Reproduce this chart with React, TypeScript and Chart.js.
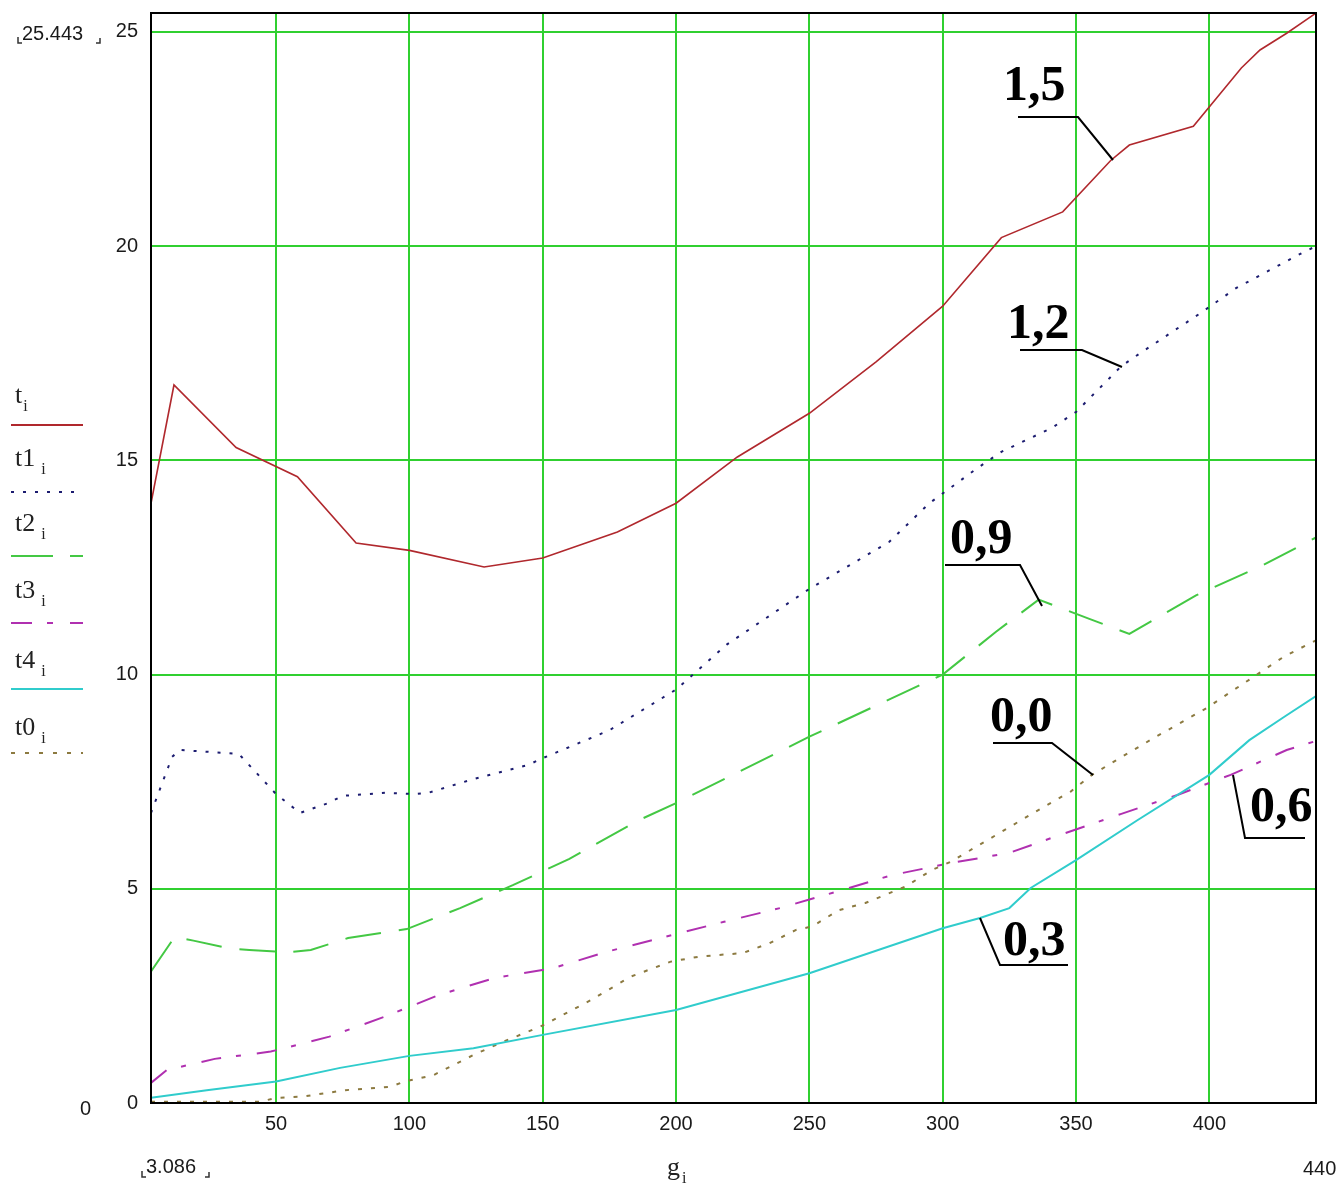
import React, { useEffect, useRef } from "react";
import { Chart, registerables } from "chart.js";
Chart.register(...registerables);

// ---- data ----
const xMin = 3.086;
const xMax = 440;
const yMin = 0;
const yMax = 25.443;
const xTicks = [50, 100, 150, 200, 250, 300, 350, 400];
const yTicks = [0, 5, 10, 15, 20, 25];

// t_i  (label 1,5)
const tG = [3.086, 11.7, 35, 58, 80, 100, 128, 150, 178, 200, 223, 250, 275, 300, 322, 345, 363, 370, 394, 412, 419, 429, 440];
const tV = [14.0, 16.76, 15.3, 14.62, 13.07, 12.9, 12.51, 12.72, 13.33, 14.0, 15.08, 16.1, 17.3, 18.6, 20.2, 20.8, 22.0, 22.36, 22.8, 24.16, 24.58, 24.97, 25.44];

// t1_i (label 1,2)
const t1G = [3.086, 11, 14, 36, 50, 59, 69.5, 75, 91, 102, 107, 124, 144.5, 150, 175, 200, 219, 250, 280, 295, 313, 322, 341, 350, 367, 374, 397, 410, 435, 440];
const t1V = [6.77, 8.08, 8.24, 8.15, 7.21, 6.77, 7.0, 7.17, 7.24, 7.21, 7.24, 7.56, 7.89, 8.05, 8.7, 9.65, 10.7, 12.0, 13.1, 14.0, 14.82, 15.2, 15.76, 16.13, 17.2, 17.5, 18.45, 19.02, 19.85, 20.0];

// t2_i (label 0,9)
const t2G = [3.086, 12, 19, 33, 40, 55, 63, 77, 99, 119, 139, 160, 186, 200, 250, 300, 320, 336, 355, 370, 395, 420, 440];
const t2V = [3.07, 3.88, 3.79, 3.6, 3.57, 3.52, 3.57, 3.85, 4.06, 4.55, 5.09, 5.7, 6.6, 7.0, 8.55, 10.0, 11.0, 11.75, 11.3, 10.95, 11.85, 12.55, 13.2];

// t3_i (label 0,6)
const t3G = [3.086, 9, 27, 48, 70, 91, 111, 132, 154, 174, 196, 218, 239, 260, 281, 303, 325, 346, 367, 388, 408, 429, 440];
const t3V = [0.47, 0.77, 1.03, 1.2, 1.55, 2.02, 2.52, 2.92, 3.15, 3.53, 3.88, 4.23, 4.55, 4.93, 5.32, 5.6, 5.84, 6.3, 6.75, 7.19, 7.66, 8.24, 8.45];

// t4_i (label 0,3)
const t4G = [3.086, 24, 50, 74, 100, 124, 150, 200, 250, 300, 314, 325, 333, 350, 373, 400, 415, 428, 440];
const t4V = [0.12, 0.3, 0.5, 0.82, 1.1, 1.28, 1.59, 2.17, 3.03, 4.08, 4.32, 4.55, 5.02, 5.67, 6.6, 7.66, 8.47, 9.01, 9.5];

// t0_i (label 0,0)
const t0G = [3.086, 44, 50, 60, 76, 93, 98, 109, 124, 134, 149, 154, 168, 183, 198, 209, 225, 235, 245, 251, 261, 271, 286, 296, 303, 334, 348, 356, 365, 380, 399, 413, 428, 440];
const t0V = [0.03, 0.03, 0.12, 0.15, 0.3, 0.38, 0.5, 0.65, 1.12, 1.4, 1.78, 1.94, 2.4, 2.95, 3.3, 3.42, 3.5, 3.73, 4.04, 4.12, 4.5, 4.67, 5.05, 5.44, 5.63, 6.77, 7.27, 7.66, 8.0, 8.55, 9.22, 9.8, 10.42, 10.8];

const C_T = "#b0282d";
const C_T1 = "#1c1c70";
const C_T2 = "#44c844";
const C_T3 = "#b030b0";
const C_T4 = "#30cccc";
const C_T0 = "#8c7a40";

function pts(xs: number[], ys: number[]) {
  return xs.map((x, i) => ({ x, y: ys[i] }));
}

const framePlugin = {
  id: "frame",
  afterDraw(chart: any) {
    const { ctx, chartArea } = chart;
    ctx.save();
    ctx.strokeStyle = "#000";
    ctx.lineWidth = 2;
    ctx.strokeRect(chartArea.left, chartArea.top, chartArea.right - chartArea.left, chartArea.bottom - chartArea.top);
    ctx.restore();
  },
};

const tickFont = { family: "'Liberation Sans', Arial, sans-serif", size: 20 };

export default function App() {
  const ref = useRef<HTMLCanvasElement | null>(null);

  useEffect(() => {
    if (!ref.current) return;
    const chart = new Chart(ref.current, {
      type: "line",
      data: {
        datasets: [
          { label: "t4", data: pts(t4G, t4V), borderColor: C_T4, borderWidth: 2, pointRadius: 0, tension: 0 },
          { label: "t0", data: pts(t0G, t0V), borderColor: C_T0, borderWidth: 2, borderDash: [4, 9], pointRadius: 0, tension: 0 },
          { label: "t3", data: pts(t3G, t3V), borderColor: C_T3, borderWidth: 2, borderDash: [20, 15, 5, 16], pointRadius: 0, tension: 0 },
          { label: "t2", data: pts(t2G, t2V), borderColor: C_T2, borderWidth: 2, borderDash: [36, 18], pointRadius: 0, tension: 0 },
          { label: "t1", data: pts(t1G, t1V), borderColor: C_T1, borderWidth: 2, borderDash: [3, 9], pointRadius: 0, tension: 0 },
          { label: "t", data: pts(tG, tV), borderColor: C_T, borderWidth: 1.6, pointRadius: 0, tension: 0 },
        ],
      },
      options: {
        animation: false,
        responsive: false,
        maintainAspectRatio: false,
        layout: { padding: { left: 0, top: 13, right: 22, bottom: 0 } },
        plugins: { legend: { display: false }, tooltip: { enabled: false } },
        scales: {
          x: {
            type: "linear",
            min: xMin,
            max: xMax,
            afterBuildTicks: (s: any) => {
              s.ticks = xTicks.map((v) => ({ value: v }));
            },
            afterFit: (s: any) => {
              s.height = 82;
              s.paddingLeft = 0;
              s.paddingRight = 0;
            },
            grid: { color: "#30d030", lineWidth: 2, drawTicks: false },
            border: { display: false },
            ticks: { font: tickFont, color: "#1a1a1a", padding: 9, maxRotation: 0, autoSkip: false },
          },
          y: {
            type: "linear",
            min: yMin,
            max: yMax,
            afterBuildTicks: (s: any) => {
              s.ticks = yTicks.map((v) => ({ value: v }));
            },
            afterFit: (s: any) => {
              s.width = 151;
              s.paddingTop = 0;
              s.paddingBottom = 0;
            },
            grid: { color: "#30d030", lineWidth: 2, drawTicks: false },
            border: { display: false },
            ticks: { font: tickFont, color: "#1a1a1a", padding: 13, autoSkip: false },
          },
        },
      },
      plugins: [framePlugin],
    } as any);
    return () => chart.destroy();
  }, []);

  const serif = "'Liberation Serif', 'Times New Roman', serif";
  const sans = "'Liberation Sans', Arial, sans-serif";
  const curveLabel = (text: string, left: number, top: number) => (
    <div
      style={{
        position: "absolute",
        left,
        top,
        font: `bold 50px ${serif}`,
        lineHeight: "50px",
        color: "#000",
        whiteSpace: "nowrap",
      }}
    >
      {text}
    </div>
  );
  const legendLabel = (base: string, centerY: number) => (
    <div
      style={{
        position: "absolute",
        left: 15,
        top: centerY - 15,
        font: `26px ${serif}`,
        lineHeight: "30px",
        color: "#222",
        whiteSpace: "nowrap",
      }}
    >
      {base}
      <span style={{ fontSize: 16, position: "relative", top: 8, marginLeft: base.length > 1 ? 6 : 1 }}>i</span>
    </div>
  );
  const plain = (text: string, left: number, centerY: number) => (
    <div
      style={{
        position: "absolute",
        left,
        top: centerY - 12,
        font: `20px ${sans}`,
        lineHeight: "24px",
        color: "#1a1a1a",
        whiteSpace: "nowrap",
      }}
    >
      {text}
    </div>
  );

  return (
    <div style={{ position: "absolute", left: 0, top: 0, width: 1338, height: 1185, background: "#fff", overflow: "hidden" }}>
      <canvas ref={ref} width={1338} height={1185} style={{ position: "absolute", left: 0, top: 0, width: 1338, height: 1185 }} />
      <svg width={1338} height={1185} style={{ position: "absolute", left: 0, top: 0 }}>
        <g fill="none" stroke="#000" strokeWidth={2}>
          <polyline points="1018,117 1078,117 1113,160" />
          <polyline points="1020,350 1082,350 1122,367" />
          <polyline points="945,565 1020,565 1042,606" />
          <polyline points="993,743 1052,743 1093,775" />
          <polyline points="1233,775 1245,838 1305,838" />
          <polyline points="980,918 1000,965 1068,965" />
        </g>
        <g fill="none" strokeWidth={2}>
          <line x1={11} y1={425} x2={83} y2={425} stroke={C_T} />
          <line x1={11} y1={492} x2={83} y2={492} stroke={C_T1} strokeDasharray="3 9" />
          <line x1={11} y1={556} x2={83} y2={556} stroke={C_T2} strokeDasharray="42 17" />
          <line x1={11} y1={623} x2={83} y2={623} stroke={C_T3} strokeDasharray="21 15 6 17" />
          <line x1={11} y1={689} x2={83} y2={689} stroke={C_T4} />
          <line x1={11} y1={753} x2={83} y2={753} stroke={C_T0} strokeDasharray="4 10" />
        </g>
        <g fill="none" stroke="#333" strokeWidth={1.5}>
          <polyline points="18,37 18,43 22,43" />
          <polyline points="96,43 100,43 100,38" />
          <polyline points="142,1171 142,1177 146,1177" />
          <polyline points="205,1177 209,1177 209,1172" />
        </g>
      </svg>
      {curveLabel("1,5", 1003, 58)}
      {curveLabel("1,2", 1007, 296)}
      {curveLabel("0,9", 950, 511)}
      {curveLabel("0,0", 990, 689)}
      {curveLabel("0,6", 1250, 779)}
      {curveLabel("0,3", 1003, 913)}
      {legendLabel("t", 395)}
      {legendLabel("t1", 458)}
      {legendLabel("t2", 523)}
      {legendLabel("t3", 590)}
      {legendLabel("t4", 660)}
      {legendLabel("t0", 727)}
      {plain("25.443", 22, 33)}
      {plain("0", 80, 1108)}
      {plain("3.086", 146, 1166)}
      {plain("440", 1303, 1168)}
      <div style={{ position: "absolute", left: 667, top: 1152, font: `26px ${serif}`, lineHeight: "30px", color: "#222" }}>
        g<span style={{ fontSize: 16, position: "relative", top: 8, marginLeft: 2 }}>i</span>
      </div>
    </div>
  );
}
